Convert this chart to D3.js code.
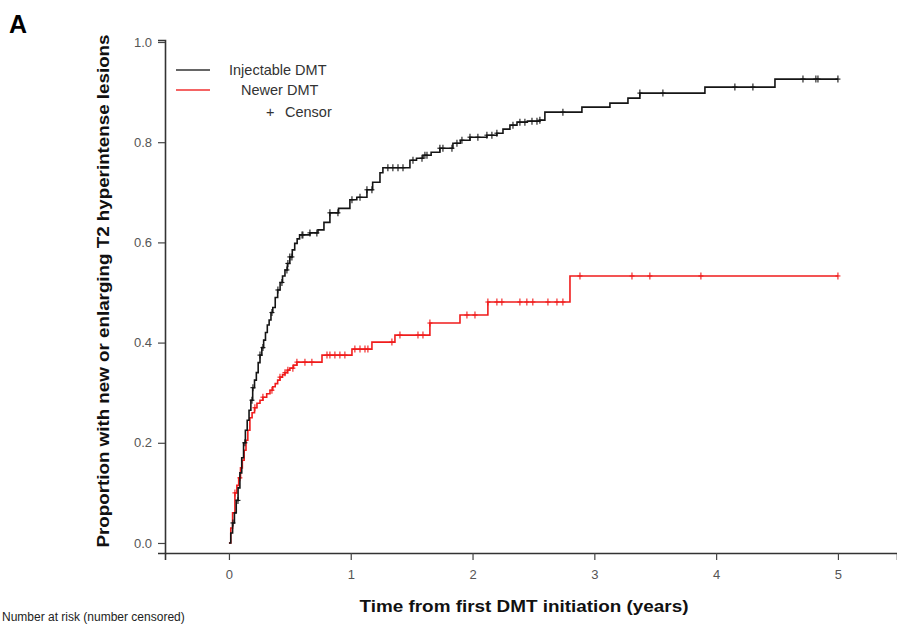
<!DOCTYPE html>
<html>
<head>
<meta charset="utf-8">
<script src="https://cdn.jsdelivr.net/npm/d3@7"></script>
<style>
  body { margin: 0; background: #fff; }
  text { font-family: "Liberation Sans", Arial, sans-serif; }
</style>
</head>
<body>
<div id="chart"></div>
<script>
// step curves (time in years, cumulative proportion)
var injTime = [0, 0.015, 0.03, 0.045, 0.06, 0.075, 0.09, 0.105, 0.12, 0.135, 0.15, 0.165, 0.18, 0.195, 0.21, 0.225, 0.24, 0.255,
    0.27, 0.285, 0.30, 0.315, 0.33, 0.345, 0.36, 0.38, 0.40, 0.42, 0.44, 0.46, 0.48, 0.50, 0.52, 0.54, 0.56, 0.58,
    0.665, 0.731, 0.78, 0.829, 0.90, 0.993, 1.05, 1.133, 1.18, 1.24, 1.264, 1.486, 1.54, 1.593, 1.66, 1.732, 1.839, 1.90, 1.979,
    2.118, 2.2, 2.25, 2.307, 2.365, 2.45, 2.553, 2.594, 2.898, 3.128, 3.276, 3.374, 3.908, 4.483, 5.0];
var injProp = [0, 0.02, 0.04, 0.06, 0.085, 0.11, 0.14, 0.17, 0.20, 0.225, 0.245, 0.265, 0.285, 0.31, 0.325, 0.34, 0.36, 0.375,
    0.39, 0.405, 0.42, 0.435, 0.445, 0.46, 0.47, 0.49, 0.505, 0.52, 0.533, 0.545, 0.558, 0.571, 0.585, 0.598, 0.607, 0.615,
    0.619, 0.625, 0.64, 0.659, 0.668, 0.685, 0.69, 0.705, 0.72, 0.739, 0.749, 0.764, 0.768, 0.774, 0.78, 0.788, 0.798, 0.804, 0.810,
    0.814, 0.818, 0.826, 0.834, 0.840, 0.842, 0.844, 0.860, 0.870, 0.878, 0.888, 0.898, 0.910, 0.926, 0.926];

var newTime = [0, 0.015, 0.03, 0.049, 0.065, 0.08, 0.095, 0.11, 0.125, 0.14, 0.155, 0.172, 0.19, 0.21, 0.23, 0.255, 0.279, 0.31,
    0.337, 0.36, 0.38, 0.40, 0.419, 0.44, 0.46, 0.48, 0.50, 0.53, 0.558,
    0.764, 1.01, 1.174, 1.363, 1.65, 1.897, 2.126, 2.80, 5.0];
var newProp = [0, 0.03, 0.06, 0.10, 0.115, 0.13, 0.15, 0.165, 0.185, 0.205, 0.225, 0.25, 0.26, 0.27, 0.279, 0.285, 0.291, 0.298,
    0.305, 0.312, 0.318, 0.325, 0.331, 0.336, 0.34, 0.345, 0.349, 0.355, 0.361,
    0.375, 0.387, 0.401, 0.415, 0.439, 0.455, 0.481, 0.533, 0.533];

// censor times
var injCensor = [0.033, 0.074, 0.131, 0.189, 0.197, 0.255, 0.279, 0.353, 0.402, 0.435, 0.476, 0.484, 0.50, 0.517, 0.60, 0.607, 0.665, 0.722,
    0.829, 0.895, 1.01, 1.076, 1.133, 1.174, 1.305, 1.346, 1.388, 1.429, 1.511, 1.585, 1.609, 1.626, 1.732, 1.757, 1.831, 1.872,
    1.913, 1.979, 2.044, 2.118, 2.159, 2.2, 2.332, 2.389, 2.43, 2.488, 2.529, 2.553, 2.742, 3.374, 3.563, 4.154, 4.302, 4.713, 4.819, 4.836, 5.0];
var newCensor = [0.049, 0.09, 0.213, 0.279, 0.353, 0.419, 0.46, 0.484, 0.525, 0.558, 0.624, 0.681, 0.805, 0.829, 0.87, 0.911, 0.952,
    1.034, 1.076, 1.117, 1.141, 1.338, 1.404, 1.552, 1.593, 1.65, 1.954, 2.02, 2.126, 2.2, 2.241, 2.389, 2.446, 2.495, 2.619, 2.693,
    2.742, 2.882, 3.309, 3.456, 3.875, 5.0];

var xTicks = [0, 1, 2, 3, 4, 5];
var yTicks = [0, 0.2, 0.4, 0.6, 0.8, 1.0];

var svg = d3.select("#chart")
    .append("svg")
    .attr("width", 897)
    .attr("height", 625);

var x = d3.scaleLinear().domain([-0.525, 5.485]).range([165, 897]);
var y = d3.scaleLinear().domain([-0.02, 1.004]).range([553, 40]);

// panel letter
svg.append("text")
    .attr("x", 9)
    .attr("y", 33)
    .style("font-size", "25px")
    .style("font-weight", "bold")
    .text("A");

// axes
var xAxis = svg.append("g")
    .attr("transform", "translate(0,553)")
    .call(d3.axisBottom(x).tickValues(xTicks).tickFormat(d3.format("d")).tickSizeOuter(0).tickSize(7).tickPadding(10));
var yAxis = svg.append("g")
    .attr("transform", "translate(165,0)")
    .call(d3.axisLeft(y).tickValues(yTicks).tickFormat(d3.format(".1f")).tickSizeOuter(0).tickSize(7).tickPadding(6));

[xAxis, yAxis].forEach(function (g) {
    g.select(".domain").attr("stroke", "#333").attr("stroke-width", 1.6);
    g.selectAll(".tick line").attr("stroke", "#444").attr("stroke-width", 1.2);
    g.selectAll(".tick text")
        .attr("fill", "#555")
        .style("font-size", "13px")
        .style("font-family", "'Liberation Sans', Arial, sans-serif");
});

// axis titles
svg.append("text")
    .attr("x", 524)
    .attr("y", 612)
    .attr("text-anchor", "middle")
    .attr("textLength", 329)
    .attr("lengthAdjust", "spacingAndGlyphs")
    .style("font-size", "16px")
    .style("font-weight", "bold")
    .attr("fill", "#111")
    .text("Time from first DMT initiation (years)");

svg.append("text")
    .attr("transform", "translate(109,291) rotate(-90)")
    .attr("text-anchor", "middle")
    .attr("textLength", 513)
    .attr("lengthAdjust", "spacingAndGlyphs")
    .style("font-size", "16px")
    .style("font-weight", "bold")
    .attr("fill", "#111")
    .text("Proportion with new or enlarging T2 hyperintense lesions");

// risk table header (cut short in the source image)
svg.append("text")
    .attr("x", 2)
    .attr("y", 621)
    .style("font-size", "12px")
    .attr("fill", "#222")
    .text("Number at risk (number censored)");

function stepValue(times, props, t) {
    var i = d3.bisectRight(times, t) - 1;
    return props[Math.max(0, i)];
}

var line = d3.line()
    .x(function (d) { return x(d[0]); })
    .y(function (d) { return y(d[1]); })
    .curve(d3.curveStepAfter);

var groups = [
    { time: newTime, prop: newProp, censor: newCensor, color: "#f01c1c" },
    { time: injTime, prop: injProp, censor: injCensor, color: "#151515" }
];

groups.forEach(function (g) {
    var pts = d3.zip(g.time, g.prop);
    svg.append("path")
        .attr("d", line(pts))
        .attr("fill", "none")
        .attr("stroke", g.color)
        .attr("stroke-width", 1.6);

    var marks = svg.append("g");
    g.censor.forEach(function (t) {
        var cx = x(t), cy = y(stepValue(g.time, g.prop, t));
        marks.append("line")
            .attr("x1", cx).attr("x2", cx)
            .attr("y1", cy - 3.5).attr("y2", cy + 3.5)
            .attr("stroke", g.color).attr("stroke-width", 1.1);
        marks.append("line")
            .attr("x1", cx - 2.5).attr("x2", cx + 2.5)
            .attr("y1", cy).attr("y2", cy)
            .attr("stroke", g.color).attr("stroke-width", 1.1);
    });
});

// legend
var legend = svg.append("g");
legend.append("line").attr("x1", 176).attr("x2", 210).attr("y1", 70).attr("y2", 70)
    .attr("stroke", "#333").attr("stroke-width", 1.6);
legend.append("text").attr("x", 229).attr("y", 75).style("font-size", "14.5px").attr("fill", "#333")
    .text("Injectable DMT");
legend.append("line").attr("x1", 176).attr("x2", 210).attr("y1", 90).attr("y2", 90)
    .attr("stroke", "#f03030").attr("stroke-width", 1.6);
legend.append("text").attr("x", 241).attr("y", 95).style("font-size", "14.5px").attr("fill", "#333")
    .text("Newer DMT");
legend.append("text").attr("x", 266).attr("y", 117).style("font-size", "14.5px").attr("fill", "#333")
    .text("+");
legend.append("text").attr("x", 285).attr("y", 117).style("font-size", "14.5px").attr("fill", "#333")
    .text("Censor");
</script>
</body>
</html>
